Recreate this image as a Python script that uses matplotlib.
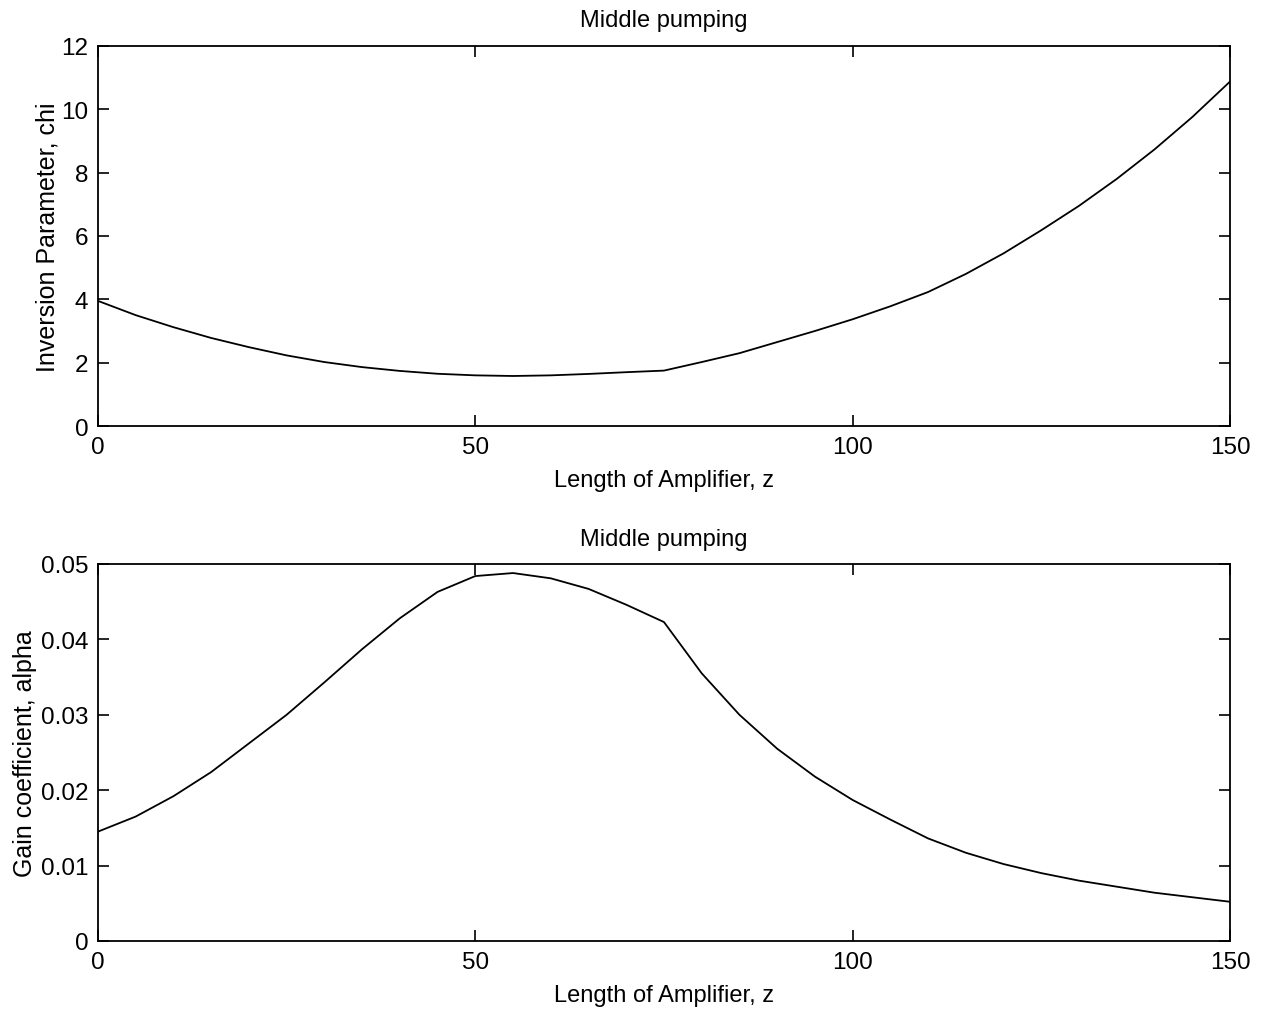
import matplotlib
matplotlib.use("Agg")
import matplotlib.pyplot as plt

plt.rcParams['font.family'] = ['Liberation Sans', 'DejaVu Sans']

# Position along the amplifier
z = [0, 5, 10, 15, 20, 25, 30, 35, 40, 45, 50, 55, 60, 65, 70, 75,
     80, 85, 90, 95, 100, 105, 110, 115, 120, 125, 130, 135, 140, 145, 150]

# Inversion parameter chi along z
chi = [3.95, 3.50, 3.12, 2.78, 2.49, 2.23, 2.02, 1.86, 1.74, 1.65, 1.60,
       1.58, 1.60, 1.645, 1.70, 1.75, 2.02, 2.30, 2.65, 3.00, 3.37, 3.78,
       4.23, 4.80, 5.45, 6.18, 6.95, 7.80, 8.73, 9.75, 10.87]

# Gain coefficient alpha along z
alpha = [0.0145, 0.0165, 0.0192, 0.0224, 0.0262, 0.0300, 0.0343, 0.0387,
         0.0428, 0.0463, 0.0484, 0.0488, 0.0481, 0.0467, 0.0446, 0.0423,
         0.0355, 0.0300, 0.0255, 0.0218, 0.0187, 0.0161, 0.0136, 0.0117,
         0.0102, 0.0090, 0.0080, 0.0072, 0.0064, 0.0058, 0.0052]

x_ticks = [0, 50, 100, 150]
chi_ticks = [0, 2, 4, 6, 8, 10, 12]
alpha_ticks = [0, 0.01, 0.02, 0.03, 0.04, 0.05]
alpha_labels = ['0', '0.01', '0.02', '0.03', '0.04', '0.05']

fig = plt.figure(figsize=(12.67, 10.12), dpi=100)
ax1 = fig.add_axes([0.0773, 0.578, 0.8935, 0.3758])
ax2 = fig.add_axes([0.0773, 0.0692, 0.8935, 0.3725])


def style(ax):
    for s in ax.spines.values():
        s.set_linewidth(1.3)
    ax.tick_params(direction='in', length=8, width=1.2, top=True, right=True,
                   labelsize=17.5, pad=7)
    ax.set_xlim(0, 150)
    ax.set_xticks(x_ticks)
    ax.set_xlabel('Length of Amplifier, z', fontsize=17, labelpad=8)
    ax.set_title('Middle pumping', fontsize=17, pad=14)


ax1.plot(z, chi, color='black', linewidth=1.3)
style(ax1)
ax1.set_ylim(0, 12)
ax1.set_yticks(chi_ticks)
ax1.set_ylabel('Inversion Parameter, chi', fontsize=18, labelpad=1.5)

ax2.plot(z, alpha, color='black', linewidth=1.3)
style(ax2)
ax2.set_ylim(0, 0.05)
ax2.set_yticks(alpha_ticks)
ax2.set_yticklabels(alpha_labels)
ax2.set_ylabel('Gain coefficient, alpha', fontsize=18, labelpad=2.5)

fig.savefig('out.png', dpi=100)
